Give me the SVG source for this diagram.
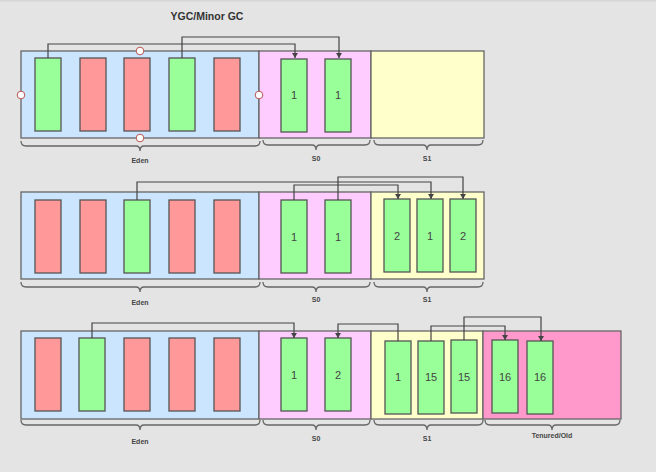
<svg xmlns="http://www.w3.org/2000/svg" width="656" height="472" viewBox="0 0 656 472">
<defs>
<marker id="arr" markerUnits="userSpaceOnUse" markerWidth="6" markerHeight="6" refX="5" refY="3" orient="auto">
<path d="M0,0 L5,3 L0,6 z" fill="#444"/>
</marker>
<style>
.eden{fill:#cce5ff;stroke:#666;stroke-width:1.3}
.s0{fill:#ffccff;stroke:#666;stroke-width:1.3}
.s1{fill:#ffffcc;stroke:#666;stroke-width:1.3}
.old{fill:#ff99cc;stroke:#666;stroke-width:1.3}
.g{fill:#99ff99;stroke:#555;stroke-width:1.3}
.r{fill:#ff9999;stroke:#555;stroke-width:1.3}
.num{font-family:"Liberation Sans",Arial,sans-serif;font-size:11px;fill:#444;text-anchor:middle;dominant-baseline:central}
.lbl{font-family:"Liberation Sans",Arial,sans-serif;font-size:7px;font-weight:bold;fill:#444;text-anchor:middle;dominant-baseline:central}
.title{font-family:"Liberation Sans",Arial,sans-serif;font-size:10.5px;font-weight:bold;fill:#333;text-anchor:middle;dominant-baseline:central}
.brace{fill:none;stroke:#666;stroke-width:1.3}
.conn{fill:none;stroke:#444;stroke-width:1.2}
.h{fill:#fff;stroke:#b85450;stroke-width:1}
</style>
</defs>
<rect width="656" height="472" fill="#e4e4e4"/>
<rect width="656" height="1.5" fill="#d6d6d6"/>
<text class="title" x="207" y="16">YGC/Minor GC</text>

<!-- Row 1 -->
<g id="row1-eden"><rect class="eden" x="21" y="51" width="238" height="87"/>
<rect class="g" x="35" y="58" width="26" height="73"/><rect class="r" x="80" y="58" width="26" height="73"/><rect class="r" x="124" y="58" width="26" height="73"/><rect class="g" x="169" y="58" width="26" height="73"/><rect class="r" x="214" y="58" width="26" height="73"/></g>
<g id="row1-s0"><rect class="s0" x="259" y="51" width="112" height="87"/>
<rect class="g" x="281" y="59" width="26" height="73"/><text class="num" x="294" y="95">1</text>
<rect class="g" x="325" y="59" width="26" height="73"/><text class="num" x="338" y="95">1</text></g>
<g id="row1-s1"><rect class="s1" x="371" y="51" width="113" height="87"/></g>
<g id="row1-handles"><circle class="h" cx="140" cy="51" r="3.8"/><circle class="h" cx="21" cy="95" r="3.8"/><circle class="h" cx="259" cy="95" r="3.8"/><circle class="h" cx="140" cy="138" r="3.8"/></g>
<g id="row1-labels">
<path class="brace" d="M21,141 q0,5 5,5 H136 q4,0 4,5 q0,-5 4,-5 H255 q5,0 5,-5"/>
<path class="brace" d="M263,140 q0,5 5,5 H312 q4,0 4,5 q0,-5 4,-5 H365 q5,0 5,-5"/>
<path class="brace" d="M374,140 q0,5 5,5 H423 q4,0 4,5 q0,-5 4,-5 H478 q5,0 5,-5"/>
<text class="lbl" x="140" y="160">Eden</text><text class="lbl" x="316" y="158">S0</text><text class="lbl" x="427" y="158">S1</text></g>

<!-- Row 2 -->
<g id="row2-eden"><rect class="eden" x="21" y="192" width="238" height="87"/>
<rect class="r" x="35" y="200" width="26" height="73"/><rect class="r" x="80" y="200" width="26" height="73"/><rect class="g" x="124" y="200" width="26" height="73"/><rect class="r" x="169" y="200" width="26" height="73"/><rect class="r" x="214" y="200" width="26" height="73"/></g>
<g id="row2-s0"><rect class="s0" x="259" y="192" width="112" height="87"/>
<rect class="g" x="281" y="200" width="26" height="73"/><text class="num" x="294" y="237">1</text>
<rect class="g" x="325" y="200" width="26" height="73"/><text class="num" x="338" y="237">1</text></g>
<g id="row2-s1"><rect class="s1" x="371" y="192" width="113" height="87"/>
<rect class="g" x="384" y="199" width="26" height="73"/><text class="num" x="397" y="236">2</text>
<rect class="g" x="417" y="199" width="26" height="73"/><text class="num" x="430" y="236">1</text>
<rect class="g" x="450" y="199" width="26" height="73"/><text class="num" x="463" y="236">2</text></g>
<g id="row2-labels">
<path class="brace" d="M21,282 q0,5 5,5 H136 q4,0 4,5 q0,-5 4,-5 H255 q5,0 5,-5"/>
<path class="brace" d="M263,282 q0,5 5,5 H312 q4,0 4,5 q0,-5 4,-5 H365 q5,0 5,-5"/>
<path class="brace" d="M374,282 q0,5 5,5 H423 q4,0 4,5 q0,-5 4,-5 H478 q5,0 5,-5"/>
<text class="lbl" x="140" y="302">Eden</text><text class="lbl" x="316" y="299">S0</text><text class="lbl" x="427" y="299">S1</text></g>

<!-- Row 3 -->
<g id="row3-eden"><rect class="eden" x="21" y="331" width="238" height="88"/>
<rect class="r" x="35" y="338" width="26" height="73"/><rect class="g" x="79" y="338" width="26" height="73"/><rect class="r" x="124" y="338" width="26" height="73"/><rect class="r" x="169" y="338" width="26" height="73"/><rect class="r" x="214" y="338" width="26" height="73"/></g>
<g id="row3-s0"><rect class="s0" x="259" y="331" width="112" height="88"/>
<rect class="g" x="281" y="338" width="26" height="73"/><text class="num" x="294" y="375">1</text>
<rect class="g" x="325" y="338" width="26" height="73"/><text class="num" x="338" y="375">2</text></g>
<g id="row3-s1"><rect class="s1" x="371" y="331" width="112" height="88"/>
<rect class="g" x="385" y="341" width="26" height="73"/><text class="num" x="398" y="377">1</text>
<rect class="g" x="418" y="341" width="26" height="73"/><text class="num" x="431" y="377">15</text>
<rect class="g" x="451" y="340" width="26" height="73"/><text class="num" x="464" y="377">15</text></g>
<g id="row3-old"><rect class="old" x="483" y="331" width="138" height="88"/>
<rect class="g" x="492" y="340" width="26" height="73"/><text class="num" x="505" y="377">16</text>
<rect class="g" x="527" y="341" width="26" height="73"/><text class="num" x="540" y="377">16</text></g>
<g id="row3-labels">
<path class="brace" d="M21,420 q0,5 5,5 H136 q4,0 4,5 q0,-5 4,-5 H255 q5,0 5,-5"/>
<path class="brace" d="M263,420 q0,5 5,5 H312 q4,0 4,5 q0,-5 4,-5 H365 q5,0 5,-5"/>
<path class="brace" d="M374,420 q0,5 5,5 H423 q4,0 4,5 q0,-5 4,-5 H478 q5,0 5,-5"/>
<path class="brace" d="M485,420 q0,5 5,5 H548 q4,0 4,5 q0,-5 4,-5 H615 q5,0 5,-5"/>
<text class="lbl" x="140" y="441">Eden</text><text class="lbl" x="316" y="438">S0</text><text class="lbl" x="427" y="438">S1</text><text class="lbl" x="552" y="435">Tenured/Old</text></g>

<g id="connectors">
<path class="conn" marker-end="url(#arr)" d="M48,58 V44 H295 V58"/>
<path class="conn" marker-end="url(#arr)" d="M182,58 V37 H339 V58"/>
<path class="conn" marker-end="url(#arr)" d="M137,200 V182 H431 V199"/>
<path class="conn" marker-end="url(#arr)" d="M294,200 V185 H398 V199"/>
<path class="conn" marker-end="url(#arr)" d="M338,200 V177 H463 V199"/>
<path class="conn" marker-end="url(#arr)" d="M92,338 V323 H294 V338"/>
<path class="conn" marker-end="url(#arr)" d="M398,341 V324 H338 V338"/>
<path class="conn" marker-end="url(#arr)" d="M431,341 V326 H505 V340"/>
<path class="conn" marker-end="url(#arr)" d="M464,340 V317 H541 V341"/>
</g>
</svg>
